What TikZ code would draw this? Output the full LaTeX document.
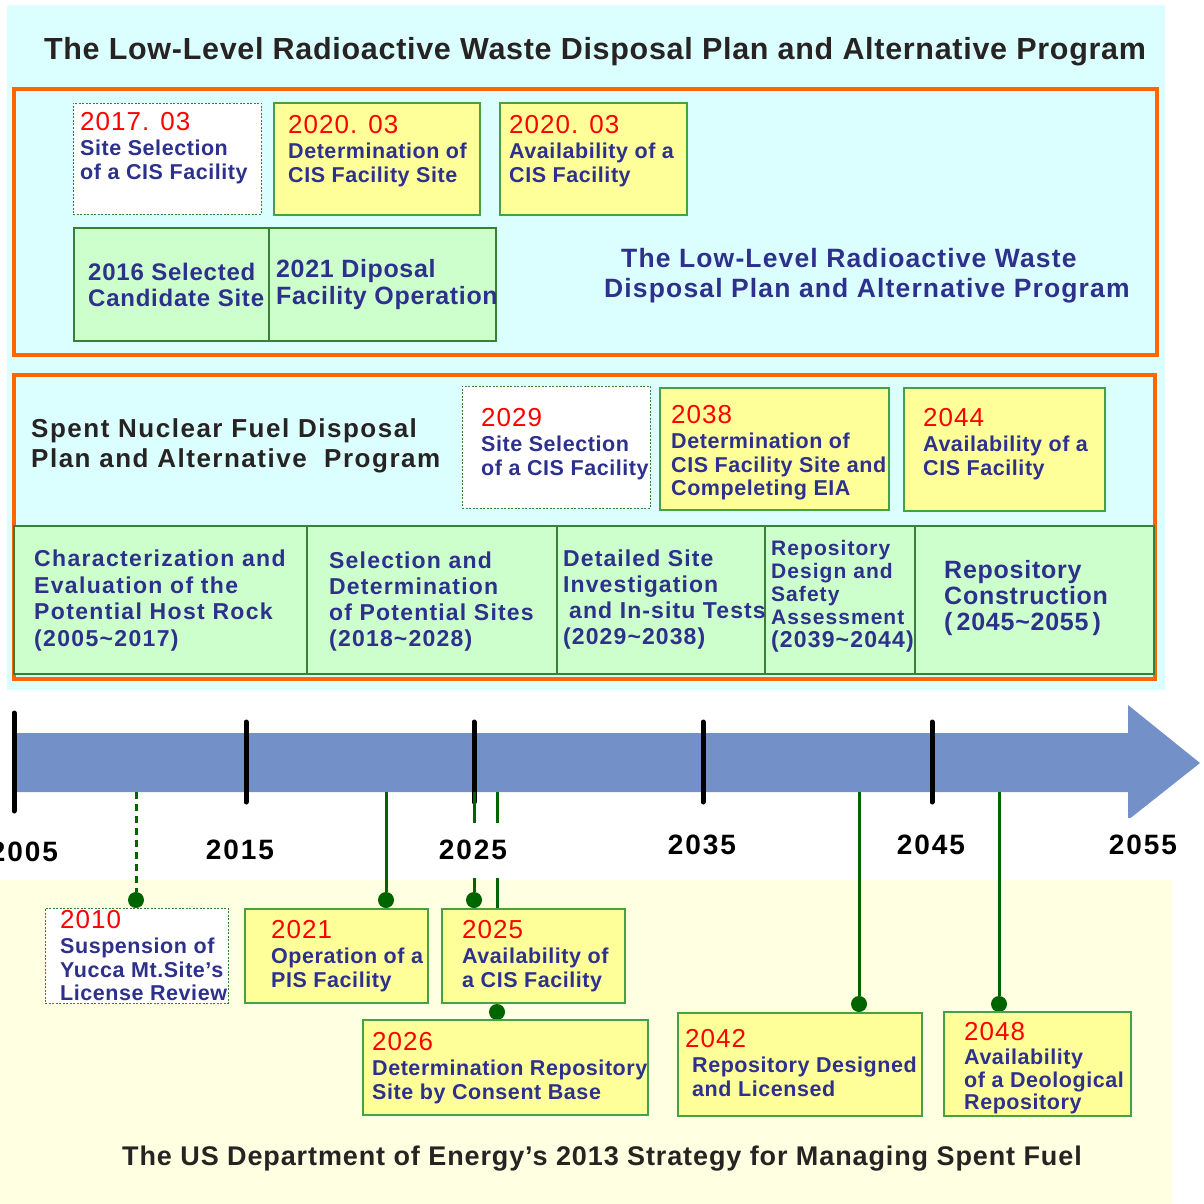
\documentclass[tikz,border=0pt]{standalone}
\usepackage{fontspec}
\setmainfont{Liberation Sans}
\usetikzlibrary{positioning}

\definecolor{panelcyan}{RGB}{219,255,255}
\definecolor{panelyellow}{RGB}{255,255,225}
\definecolor{boxyellow}{RGB}{255,255,153}
\definecolor{boxgreen}{RGB}{204,255,204}
\definecolor{edgegreen}{RGB}{70,160,70}
\definecolor{linkgreen}{RGB}{0,100,0}
\definecolor{planorange}{RGB}{255,102,0}
\definecolor{navy}{RGB}{46,49,140}
\definecolor{darktxt}{RGB}{40,35,35}
\definecolor{axisblue}{RGB}{115,145,200}

% sized, letter-spaced bold face: \wide{size}{skip}{spacing}
\newcommand{\wide}[3]{\bfseries\fontsize{#1}{#2}\selectfont\addfontfeatures{LetterSpace=#3}}
\newcommand{\yr}[1]{{\mdseries\fontsize{26}{26}\selectfont\addfontfeatures{LetterSpace=4}\color{red}#1}}

\begin{document}
\begin{tikzpicture}[
    x=1pt, y=-1pt,
    plan/.style={draw=planorange, line width=3.2},
    cell/.style={rectangle, anchor=north west, inner sep=0, outer sep=0},
    ybox/.style={cell, draw=edgegreen, fill=boxyellow, line width=1.6},
    gbox/.style={cell, draw=edgegreen!80!black, fill=boxgreen, line width=1.4},
    wbox/.style={cell, draw=edgegreen!80!black, fill=white, line width=0.9, dash pattern=on 2pt off 1.5pt},
    note/.style={anchor=north west, inner sep=0, align=left, text=navy, font=\wide{21.5}{23.5}{2.6}},
    headtxt/.style={inner sep=0, text=darktxt, font=\wide{30.5}{30.5}{2.3}},
    yearlbl/.style={fill=white, inner xsep=2, minimum height=55, font=\wide{28}{28}{7}},
    tick/.style={line width=5, line cap=round},
    link/.style={draw=linkgreen, line width=3},
    dot/.style={circle, fill=linkgreen, minimum size=16, inner sep=0}
]
\useasboundingbox (0,0) rectangle (1203,1204);
\fill[white] (0,0) rectangle (1203,1204);

% Panels
\fill[panelcyan] (7,5) rectangle (1165,690);
\fill[panelyellow] (0,880) rectangle (1172,1204);

% Low-level waste program
\node[headtxt, anchor=base] (title) at (595,60) {The Low-Level Radioactive Waste Disposal Plan and Alternative Program};
\draw[plan] (14,89) rectangle (1157,355);

\node[wbox, minimum width=188, minimum height=111] (lowsel) at (73,103) {};
\node[note] (lowseltxt) at (80,112) {\yr{2017. 03}\\[2pt] Site Selection\\ of a CIS Facility};
\node[ybox, minimum width=206, minimum height=112] (lowdet) at (274,103) {};
\node[note] (lowdettxt) at (288,115) {\yr{2020. 03}\\[2pt] Determination of\\ CIS Facility Site};
\node[ybox, minimum width=187, minimum height=112] (lowavail) at (500,103) {};
\node[note] (lowavailtxt) at (509,115) {\yr{2020. 03}\\[2pt] Availability of a\\ CIS Facility};

\node[gbox, minimum width=195, minimum height=113] (cand) at (74,228) {};
\node[note, font=\wide{24}{26}{3.2}] (candtxt) at (88,263) {2016 Selected\\ Candidate Site};
\node[gbox, minimum width=227, minimum height=113] (dipo) at (269,228) {};
\node[note, font=\wide{25}{27}{2.6}] (dipotxt) at (276,259) {2021 Diposal\\ Facility Operation};

\node[note, font=\wide{26.5}{30}{4.3}] (lowname) at (604,248)
    {\hspace*{17pt}The Low-Level Radioactive Waste\\ Disposal Plan and Alternative Program};

% Spent fuel program
\draw[plan] (14,375) rectangle (1155,679);
\node[note, text=darktxt, font=\wide{26}{30.5}{5.8}] (spent) at (31,418)
    {Spent Nuclear Fuel Disposal\\ Plan and Alternative\ \ Program};

\node[wbox, minimum width=188, minimum height=122] (s2029) at (462,386) {};
\node[note] (s2029txt) at (481,408) {\yr{2029}\\[2pt] Site Selection\\ of a CIS Facility};
\node[ybox, minimum width=229, minimum height=122] (s2038) at (660,388) {};
\node[note] (s2038txt) at (671,405) {\yr{2038}\\[2pt] Determination of\\ CIS Facility Site and\\ Compeleting EIA};
\node[ybox, minimum width=201, minimum height=123] (s2044) at (904,388) {};
\node[note] (s2044txt) at (923,408) {\yr{2044}\\[2pt] Availability of a\\ CIS Facility};

% Stages
\node[gbox, minimum width=293, minimum height=148] (st1) at (14,526) {};
\node[gbox, minimum width=250, minimum height=148] (st2) at (307,526) {};
\node[gbox, minimum width=208, minimum height=148] (st3) at (557,526) {};
\node[gbox, minimum width=150, minimum height=148] (st4) at (765,526) {};
\node[gbox, minimum width=239, minimum height=148] (st5) at (915,526) {};
\node[note, font=\wide{23}{26.5}{5.8}] (st1txt) at (34,550)
    {Characterization and\\ Evaluation of the\\ Potential Host Rock\\ (2005\textasciitilde 2017)};
\node[note, font=\wide{23}{26}{5.2}] (st2txt) at (329,552)
    {Selection and\\ Determination\\ of Potential Sites\\ (2018\textasciitilde 2028)};
\node[note, font=\wide{23}{26}{4.8}] (st3txt) at (563,550)
    {Detailed Site\\ Investigation\\ \hspace*{6pt}and In-situ Tests\\ (2029\textasciitilde 2038)};
\node[note, font=\wide{21}{23}{5}] (st4txt) at (771,540)
    {Repository\\ Design and\\ Safety\\ Assessment\\ {\fontsize{23}{23}\selectfont(2039\textasciitilde 2044)}};
\node[note, font=\wide{25}{26}{3}] (st5txt) at (944,560)
    {Repository\\ Construction\\ (\,2045\textasciitilde 2055\,)};

% Time axis
\fill[axisblue] (15,733) -- (1128,733) -- (1128,705) -- (1200,763) -- (1128,820) -- (1128,792) -- (15,792) -- cycle;
\draw[tick] (14,713) -- (14,811);
\foreach \tx in {246,474,703,932}
    \draw[tick] (\tx,722) -- (\tx,802);

% Events on the axis
\coordinate (t2010) at (136,792);
\coordinate (t2021) at (386,792);
\coordinate (t2025) at (474,792);
\coordinate (t2026) at (497,792);
\coordinate (t2042) at (859,792);
\coordinate (t2048) at (999,792);
\node[dot] (d2010) at (136,900) {};
\node[dot] (d2021) at (386,900) {};
\node[dot] (d2025) at (474,900) {};
\node[dot] (d2026) at (497,1012) {};
\node[dot] (d2042) at (859,1004) {};
\node[dot] (d2048) at (999,1004) {};
\draw[link, dash pattern=on 7pt off 5pt] (t2010) -- (d2010);
\draw[link] (t2021) -- (d2021);
\draw[link] (t2025) -- (d2025);
\draw[link] (t2026) -- (d2026);
\draw[link] (t2042) -- (d2042);
\draw[link] (t2048) -- (d2048);

\node[yearlbl] (y2005) at (24,852) {2005};
\node[yearlbl] (y2015) at (240,850) {2015};
\node[yearlbl] (y2025) at (473,850) {2025};
\node[yearlbl] (y2035) at (702,845) {2035};
\node[yearlbl] (y2045) at (931,845) {2045};
\node[yearlbl] (y2055) at (1143,845) {2055};

% DOE strategy
\node[wbox, minimum width=183, minimum height=95] (b2010) at (45,908) {};
\node[note] (b2010txt) at (60,910) {\yr{2010}\\[2pt] Suspension of\\ Yucca Mt.Site's\\ License Review};
\node[ybox, minimum width=183, minimum height=94] (b2021) at (245,909) {};
\node[note] (b2021txt) at (271,920) {\yr{2021}\\[2pt] Operation of a\\ PIS Facility};
\node[ybox, minimum width=183, minimum height=94] (b2025) at (442,909) {};
\node[note] (b2025txt) at (462,920) {\yr{2025}\\[2pt] Availability of\\ a CIS Facility};
\node[ybox, minimum width=285, minimum height=95] (b2026) at (363,1020) {};
\node[note] (b2026txt) at (372,1032) {\yr{2026}\\[2pt] Determination Repository\\ Site by Consent Base};
\node[ybox, minimum width=244, minimum height=103] (b2042) at (678,1013) {};
\node[note] (b2042txt) at (685,1029) {\yr{2042}\\[2pt] \hspace*{7pt}Repository Designed\\ \hspace*{7pt}and Licensed};
\node[ybox, minimum width=187, minimum height=104] (b2048) at (944,1012) {};
\node[note, font=\wide{21.5}{22.5}{2.6}] (b2048txt) at (964,1022)
    {\yr{2048}\\[2pt] Availability\\ of a Deological\\ Repository};

\node[headtxt, anchor=base, font=\wide{27}{27}{3.3}] (caption) at (602,1165)
    {The US Department of Energy's 2013 Strategy for Managing Spent Fuel};

\end{tikzpicture}
\end{document}
